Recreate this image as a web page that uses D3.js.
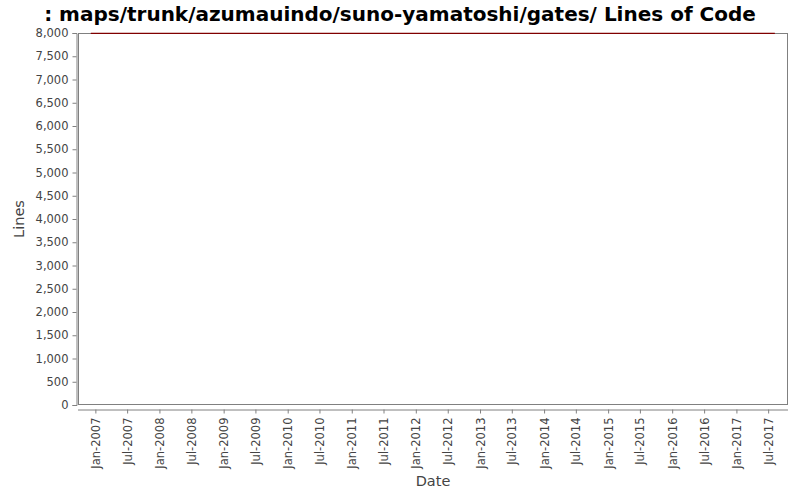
<!DOCTYPE html>
<html>
<head>
<meta charset="utf-8">
<script src="https://cdn.jsdelivr.net/npm/d3@7"></script>
<style>
    body { margin: 0; background: #fff; }
    .title { font-family: "DejaVu Sans", sans-serif; font-weight: bold; font-size: 20px; fill: #000; }
    .tick text { font-family: "DejaVu Sans", sans-serif; font-size: 11.5px; fill: #444; }
    .axisLabel { font-family: "DejaVu Sans", sans-serif; font-size: 14.5px; fill: #444; }
</style>
</head>
<body>
<script>
(function () {

    //chart data
    var dates = ["2006-12-06", "2009-06-01", "2012-03-01", "2015-01-01", "2017-08-08"];
    var lines = [7990, 7990, 7990, 7990, 7990];
    var xTickLabels = ["Jan-2007", "Jul-2007", "Jan-2008", "Jul-2008", "Jan-2009", "Jul-2009",
        "Jan-2010", "Jul-2010", "Jan-2011", "Jul-2011", "Jan-2012", "Jul-2012",
        "Jan-2013", "Jul-2013", "Jan-2014", "Jul-2014", "Jan-2015", "Jul-2015",
        "Jan-2016", "Jul-2016", "Jan-2017", "Jul-2017"];
    var yTicks = [0, 500, 1000, 1500, 2000, 2500, 3000, 3500, 4000, 4500, 5000,
        5500, 6000, 6500, 7000, 7500, 8000];

    window.onload = setChart();

    function setChart() {
        var width = 800,
            height = 500;
        var plot = { left: 78, top: 33, right: 788, bottom: 405 };

        var svg = d3.select("body")
            .append("svg")
            .attr("width", width)
            .attr("height", height);

        var parseDay = d3.timeParse("%Y-%m-%d");
        var parseTick = d3.timeParse("%b-%Y");
        var data = dates.map(function (d, i) {
            return { date: parseDay(d), value: lines[i] };
        });

        var xScale = d3.scaleTime()
            .domain([parseDay("2006-09-24"), parseDay("2017-10-22")])
            .range([plot.left, plot.right]);

        var yScale = d3.scaleLinear()
            .domain([0, 8000])
            .range([plot.bottom, plot.top]);

        //title
        svg.append("text")
            .attr("class", "title")
            .attr("x", 400)
            .attr("y", 21)
            .attr("text-anchor", "middle")
            .text(": maps/trunk/azumauindo/suno-yamatoshi/gates/ Lines of Code");

        //plot outline
        svg.append("rect")
            .attr("x", plot.left + 0.5)
            .attr("y", plot.top + 0.5)
            .attr("width", plot.right - plot.left - 1)
            .attr("height", plot.bottom - plot.top - 1)
            .style("fill", "#fff")
            .style("stroke", "#808080")
            .style("stroke-width", 1);

        //y axis
        var yAxis = svg.append("g")
            .attr("transform", "translate(" + (plot.left - 1.5) + ",0)")
            .call(d3.axisLeft(yScale)
                .tickValues(yTicks)
                .tickSize(4)
                .tickPadding(4)
                .tickFormat(d3.format(",")));
        yAxis.select(".domain").attr("stroke", "#808080");
        yAxis.selectAll(".tick line").attr("stroke", "#808080");

        //x axis
        var xAxis = svg.append("g")
            .attr("transform", "translate(0," + (plot.bottom + 4.5) + ")")
            .call(d3.axisBottom(xScale)
                .tickValues(xTickLabels.map(parseTick))
                .tickSize(4)
                .tickFormat(d3.timeFormat("%b-%Y")));
        xAxis.select(".domain")
            .attr("stroke", "#808080")
            .attr("d", "M" + plot.left + ",0.5H" + plot.right);
        xAxis.selectAll(".tick line").attr("stroke", "#808080");
        xAxis.selectAll(".tick text")
            .attr("transform", "rotate(-90)")
            .attr("text-anchor", "end")
            .attr("x", -8)
            .attr("y", 0)
            .attr("dy", "0.35em");

        //axis labels
        svg.append("text")
            .attr("class", "axisLabel")
            .attr("x", (plot.left + plot.right) / 2)
            .attr("y", 486)
            .attr("text-anchor", "middle")
            .text("Date");

        svg.append("text")
            .attr("class", "axisLabel")
            .attr("transform", "translate(24," + (plot.top + plot.bottom) / 2 + ") rotate(-90)")
            .attr("text-anchor", "middle")
            .text("Lines");

        //data line
        var line = d3.line()
            .x(function (d) { return xScale(d.date); })
            .y(function (d) { return yScale(d.value); });

        svg.append("path")
            .datum(data)
            .attr("d", line)
            .style("fill", "none")
            .style("stroke", "#800000")
            .style("stroke-width", 1.2);
    };

})();
</script>
</body>
</html>
